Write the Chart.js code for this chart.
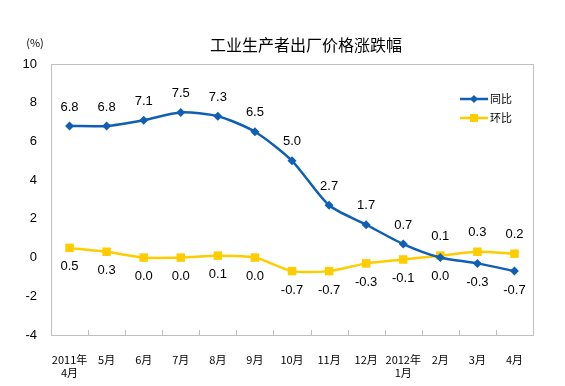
<!DOCTYPE html>
<html>
<head>
<meta charset="utf-8">
<script src="https://cdn.jsdelivr.net/npm/chart.js@4"></script>
<style>
  body { margin: 0; background: #fff; }
  #wrap { width: 565px; height: 386px; }
</style>
</head>
<body>
<div id="wrap"><canvas id="ppiChart" width="565" height="386"></canvas></div>
<script>
// 工业生产者出厂价格涨跌幅
const months = [['2011年', '4月'], '5月', '6月', '7月', '8月', '9月', '10月', '11月', '12月', ['2012年', '1月'], '2月', '3月', '4月'];
const yoyValues = [6.8, 6.8, 7.1, 7.5, 7.3, 6.5, 5.0, 2.7, 1.7, 0.7, 0.0, -0.3, -0.7];
const momValues = [0.5, 0.3, 0.0, 0.0, 0.1, 0.0, -0.7, -0.7, -0.3, -0.1, 0.1, 0.3, 0.2];
const yTicks = [-4, -2, 0, 2, 4, 6, 8, 10];

const BLUE = '#0f5fb4';
const YELLOW = '#ffcc00';
const FONT = '"Liberation Sans", Arial, sans-serif';
const CJK = '"Noto Sans CJK SC", sans-serif';

// frame, x ticks, title, legend, value labels
const decorPlugin = {
    id: 'decor',
    afterDraw(chart) {
        const ctx = chart.ctx;
        const area = chart.chartArea;
        const xs = chart.scales.x;
        ctx.save();

        // plot frame
        ctx.strokeStyle = '#bfbfbf';
        ctx.lineWidth = 1;
        ctx.strokeRect(Math.round(area.left) + 0.5, Math.round(area.top) + 0.5,
            Math.round(area.right - area.left), Math.round(area.bottom - area.top));

        // category tick marks (between categories, pointing up)
        const half = (xs.getPixelForValue(1) - xs.getPixelForValue(0)) / 2;
        ctx.beginPath();
        for (let i = 1; i < months.length; i++) {
            const x = Math.round(xs.getPixelForValue(i) - half) + 0.5;
            ctx.moveTo(x, area.bottom);
            ctx.lineTo(x, area.bottom - 5);
        }
        ctx.stroke();

        // title and unit
        ctx.fillStyle = '#000';
        ctx.textAlign = 'center';
        ctx.textBaseline = 'middle';
        ctx.font = '16px ' + CJK;
        ctx.fillText('工业生产者出厂价格涨跌幅', 306, 45);
        ctx.font = '11px ' + CJK;
        ctx.fillText('(%)', 35, 43);

        // value labels: above when the series is on top, below otherwise
        ctx.font = '13px ' + FONT;
        chart.data.datasets.forEach((ds, di) => {
            const other = chart.data.datasets[1 - di].data;
            const meta = chart.getDatasetMeta(di);
            meta.data.forEach((pt, i) => {
                const above = ds.data[i] >= other[i];
                ctx.fillText(ds.data[i].toFixed(1), pt.x, pt.y + (above ? -19 : 19));
            });
        });

        // legend
        const items = [
            { text: '同比', color: BLUE, style: 'diamond', y: 99 },
            { text: '环比', color: YELLOW, style: 'square', y: 118 }
        ];
        items.forEach(it => {
            ctx.strokeStyle = it.color;
            ctx.fillStyle = it.color;
            ctx.lineWidth = 2.5;
            ctx.beginPath();
            ctx.moveTo(460, it.y);
            ctx.lineTo(488, it.y);
            ctx.stroke();
            if (it.style === 'diamond') {
                ctx.beginPath();
                ctx.moveTo(474, it.y - 4);
                ctx.lineTo(478, it.y);
                ctx.lineTo(474, it.y + 4);
                ctx.lineTo(470, it.y);
                ctx.closePath();
                ctx.fill();
            } else {
                ctx.fillRect(470, it.y - 4, 8, 8);
            }
            ctx.fillStyle = '#000';
            ctx.textAlign = 'left';
            ctx.font = '11px ' + CJK;
            ctx.fillText(it.text, 490, it.y);
        });
        ctx.restore();
    }
};

new Chart(document.getElementById('ppiChart'), {
    type: 'line',
    data: {
        labels: months,
        datasets: [{
            label: '同比',
            data: yoyValues,
            borderColor: BLUE,
            backgroundColor: BLUE,
            borderWidth: 2.5,
            pointStyle: 'rectRot',
            pointRadius: 4.5,
            pointBorderWidth: 0,
            tension: 0.25
        }, {
            label: '环比',
            data: momValues,
            borderColor: YELLOW,
            backgroundColor: YELLOW,
            borderWidth: 2.5,
            pointStyle: 'rect',
            pointRadius: 6,
            pointBorderWidth: 0,
            tension: 0.25
        }]
    },
    options: {
        responsive: false,
        animation: false,
        layout: { padding: { top: 64, right: 32, bottom: 6, left: 0 } },
        plugins: {
            legend: { display: false },
            tooltip: { enabled: false }
        },
        scales: {
            x: {
                offset: true,
                grid: { display: false },
                border: { display: false },
                ticks: {
                    color: '#000',
                    maxRotation: 0,
                    autoSkip: false,
                    padding: 10,
                    font: { family: CJK, size: 11 }
                },
                afterFit(scale) { scale.height = 45; }
            },
            y: {
                min: -4,
                max: 10,
                afterBuildTicks(scale) { scale.ticks = yTicks.map(v => ({ value: v })); },
                grid: { display: false },
                border: { display: false },
                ticks: {
                    color: '#000',
                    padding: 6,
                    font: { family: FONT, size: 13 }
                },
                afterFit(scale) { scale.width = 51; }
            }
        }
    },
    plugins: [decorPlugin]
});
</script>
</body>
</html>
